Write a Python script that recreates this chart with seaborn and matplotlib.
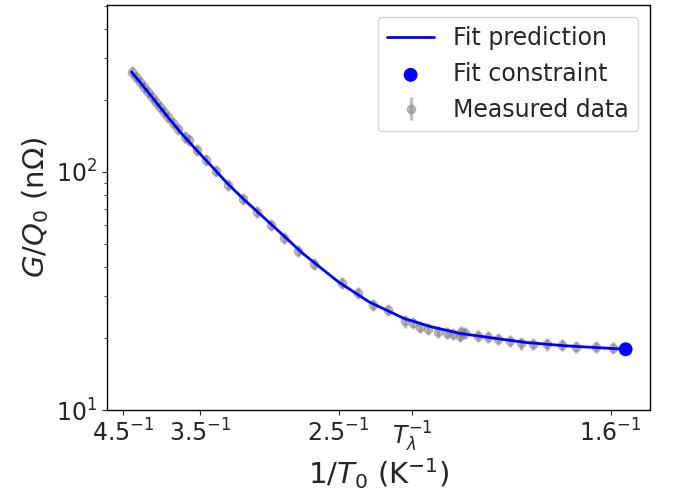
import numpy as np
import pandas as pd
import matplotlib
matplotlib.use("Agg")
import matplotlib.pyplot as plt
import seaborn as sns

# Measured data: temperature T0 (K) and G/Q0 (nOhm)
meas_T = [4.366, 4.304, 4.243, 4.184, 4.128, 4.073, 4.019, 3.966, 3.915, 3.865,
          3.805, 3.746, 3.667, 3.623, 3.538, 3.447, 3.352, 3.236, 3.111, 3.004,
          2.903, 2.815, 2.727, 2.632, 2.481, 2.403, 2.334, 2.268, 2.198, 2.167,
          2.140, 2.110, 2.074, 2.043, 2.022, 1.999, 1.995, 1.983, 1.941, 1.911,
          1.881, 1.847, 1.814, 1.784, 1.748, 1.711, 1.676, 1.631, 1.596]
meas_G = [263.2, 250.7, 238.8, 227.5, 216.8, 206.5, 196.8, 187.5, 178.6, 170.2,
          160.6, 151.6, 140.3, 136.2, 123.6, 112.2, 100.9, 88.1, 77.0, 67.9,
          59.9, 52.8, 46.6, 41.1, 34.2, 31.0, 27.6, 26.3, 23.6, 23.2,
          22.3, 21.9, 21.3, 21.1, 20.9, 20.5, 21.2, 21.1, 20.5, 20.3,
          19.9, 19.5, 19.1, 19.0, 18.9, 18.8, 18.4, 18.4, 18.2]
meas_err_frac = 0.06

# Fit prediction curve
fit_T = [4.37, 4.2, 4.0, 3.85, 3.7, 3.55, 3.4, 3.25, 3.1, 2.9, 2.7, 2.5, 2.35,
         2.2, 2.1, 2.0, 1.9, 1.8, 1.7, 1.6, 1.569]
fit_G = [263.0, 231.0, 194.0, 168.0, 145.0, 125.0, 107.0, 90.0, 76.0, 60.0, 45.5,
         34.5, 28.4, 24.2, 22.4, 21.0, 20.1, 19.2, 18.6, 18.15, 18.0]

# Fit constraint
con_T = [1.569]
con_G = [18.0]

# Tick labels
tick_T = [4.5, 3.5, 2.5, 2.17, 1.6]
tick_labels = [r"$4.5^{-1}$", r"$3.5^{-1}$", r"$2.5^{-1}$", r"$T_\lambda^{-1}$", r"$1.6^{-1}$"]

sns.set_style("ticks")
plt.rcParams["font.family"] = ["DejaVu Sans"]

fig = plt.figure(figsize=(6.73, 4.98), dpi=100)
ax = fig.add_axes([0.159, 0.1767, 0.807, 0.8133])

meas = pd.DataFrame({"x": 1 / np.array(meas_T), "G": meas_G})
fit = pd.DataFrame({"x": 1 / np.array(fit_T), "G": fit_G})
con = pd.DataFrame({"x": 1 / np.array(con_T), "G": con_G})

ax.errorbar(meas["x"], meas["G"], yerr=meas_err_frac * meas["G"], fmt="o",
            color="gray", alpha=0.5, ms=6, elinewidth=2.5, capsize=0,
            label="Measured data", zorder=2)
sns.lineplot(data=fit, x="x", y="G", ax=ax, color="blue", lw=2, sort=False,
             estimator=None, label="Fit prediction", zorder=3)
sns.scatterplot(data=con, x="x", y="G", ax=ax, color="blue", s=100,
                edgecolor="none", label="Fit constraint", zorder=4)

ax.set_yscale("log")
ax.set_ylim(10, 503)
ax.set_xlim(0.2086, 0.6576)
ax.set_xticks(1 / np.array(tick_T))
ax.set_xticklabels(tick_labels)
ax.tick_params(axis="both", labelsize=17)
ax.set_xlabel(r"$1/T_0$ (K$^{-1}$)", fontsize=21, labelpad=2)
ax.set_ylabel(r"$G/Q_0$ (n$\Omega$)", fontsize=21)
for s in ax.spines.values():
    s.set_visible(True)
    s.set_color("black")
    s.set_linewidth(1)

handles, labels = ax.get_legend_handles_labels()
order = [labels.index(l) for l in ["Fit prediction", "Fit constraint", "Measured data"]]
ax.legend([handles[i] for i in order], [labels[i] for i in order],
          loc="upper right", fontsize=17)

fig.savefig("out.png", dpi=100)
